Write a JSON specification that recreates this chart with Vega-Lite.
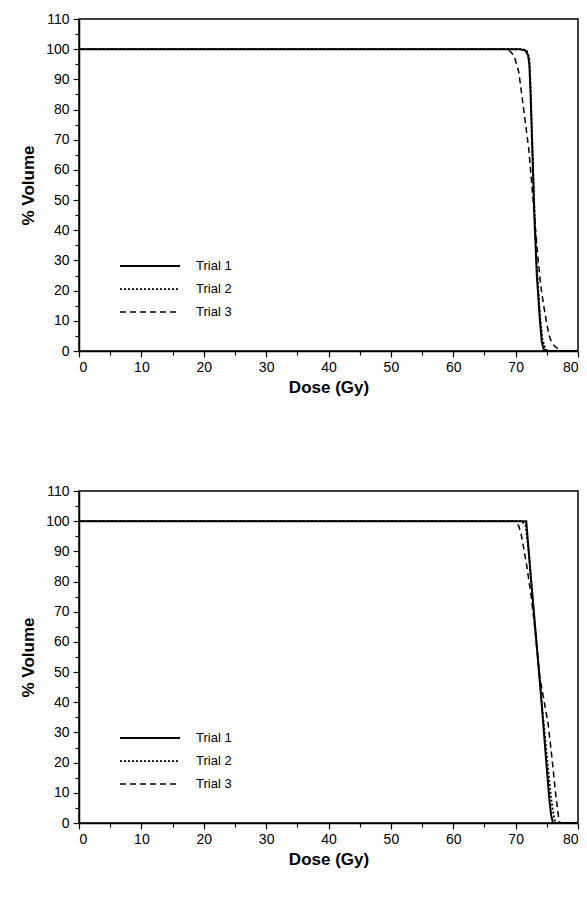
{
  "$schema": "https://vega.github.io/schema/vega-lite/v6.json",
  "padding": {"left": 18, "top": 11, "right": 0, "bottom": 0},
  "background": "white",
  "bounds": "flush",
  "spacing": 140,
  "config": {
    "view": {"stroke": "black", "strokeWidth": 1.5},
    "font": "Liberation Sans",
    "axis": {
      "domainColor": "black", "domainWidth": 1.5,
      "tickColor": "black", "tickWidth": 1.2,
      "labelColor": "black", "labelFont": "Liberation Sans", "labelFontSize": 14,
      "titleColor": "black", "titleFont": "Liberation Sans", "titleFontSize": 17, "titleFontWeight": "bold",
      "grid": false
    },
    "legend": {
      "orient": "none", "title": null, "padding": 0,
      "symbolType": "stroke", "symbolSize": 3600, "symbolStrokeColor": "black", "symbolStrokeWidth": 1.5,
      "labelFont": "Liberation Sans", "labelFontSize": 13, "labelColor": "black", "labelOffset": 15,
      "clipHeight": 14, "rowPadding": 9
    }
  },
  "datasets": {
    "top": [
      {"trial": "Trial 1", "dose": 0, "volume": 100}, {"trial": "Trial 1", "dose": 70.5, "volume": 100},
      {"trial": "Trial 1", "dose": 71.5, "volume": 99.7}, {"trial": "Trial 1", "dose": 72.0, "volume": 98},
      {"trial": "Trial 1", "dose": 72.2, "volume": 95}, {"trial": "Trial 1", "dose": 72.4, "volume": 85},
      {"trial": "Trial 1", "dose": 72.7, "volume": 65}, {"trial": "Trial 1", "dose": 73.0, "volume": 45},
      {"trial": "Trial 1", "dose": 73.4, "volume": 25}, {"trial": "Trial 1", "dose": 73.9, "volume": 10},
      {"trial": "Trial 1", "dose": 74.2, "volume": 3}, {"trial": "Trial 1", "dose": 74.5, "volume": 0.5},
      {"trial": "Trial 1", "dose": 75.0, "volume": 0}, {"trial": "Trial 1", "dose": 80, "volume": 0},
      {"trial": "Trial 2", "dose": 0, "volume": 100}, {"trial": "Trial 2", "dose": 71.0, "volume": 100},
      {"trial": "Trial 2", "dose": 71.8, "volume": 99.5}, {"trial": "Trial 2", "dose": 72.2, "volume": 97},
      {"trial": "Trial 2", "dose": 72.4, "volume": 88}, {"trial": "Trial 2", "dose": 72.7, "volume": 68},
      {"trial": "Trial 2", "dose": 73.0, "volume": 48}, {"trial": "Trial 2", "dose": 73.4, "volume": 28},
      {"trial": "Trial 2", "dose": 73.9, "volume": 12}, {"trial": "Trial 2", "dose": 74.3, "volume": 4},
      {"trial": "Trial 2", "dose": 74.8, "volume": 0.5}, {"trial": "Trial 2", "dose": 75.3, "volume": 0},
      {"trial": "Trial 2", "dose": 80, "volume": 0},
      {"trial": "Trial 3", "dose": 0, "volume": 100}, {"trial": "Trial 3", "dose": 68.5, "volume": 100},
      {"trial": "Trial 3", "dose": 69.3, "volume": 99}, {"trial": "Trial 3", "dose": 69.8, "volume": 97.5},
      {"trial": "Trial 3", "dose": 70.5, "volume": 92.5}, {"trial": "Trial 3", "dose": 71.3, "volume": 80},
      {"trial": "Trial 3", "dose": 72.1, "volume": 67}, {"trial": "Trial 3", "dose": 72.6, "volume": 55},
      {"trial": "Trial 3", "dose": 73.0, "volume": 45}, {"trial": "Trial 3", "dose": 73.4, "volume": 35},
      {"trial": "Trial 3", "dose": 74.0, "volume": 22}, {"trial": "Trial 3", "dose": 74.5, "volume": 15},
      {"trial": "Trial 3", "dose": 75.0, "volume": 9}, {"trial": "Trial 3", "dose": 75.3, "volume": 5.7},
      {"trial": "Trial 3", "dose": 75.6, "volume": 3.8}, {"trial": "Trial 3", "dose": 76.1, "volume": 2},
      {"trial": "Trial 3", "dose": 76.8, "volume": 0.7}, {"trial": "Trial 3", "dose": 77.3, "volume": 0},
      {"trial": "Trial 3", "dose": 80, "volume": 0}
    ],
    "bottom": [
      {"trial": "Trial 1", "dose": 0, "volume": 100}, {"trial": "Trial 1", "dose": 71.7, "volume": 100},
      {"trial": "Trial 1", "dose": 72.1, "volume": 90}, {"trial": "Trial 1", "dose": 72.5, "volume": 80},
      {"trial": "Trial 1", "dose": 73.0, "volume": 68}, {"trial": "Trial 1", "dose": 73.5, "volume": 56},
      {"trial": "Trial 1", "dose": 74.0, "volume": 44}, {"trial": "Trial 1", "dose": 74.5, "volume": 31},
      {"trial": "Trial 1", "dose": 75.0, "volume": 18}, {"trial": "Trial 1", "dose": 75.4, "volume": 8},
      {"trial": "Trial 1", "dose": 75.7, "volume": 2.5}, {"trial": "Trial 1", "dose": 76.0, "volume": 0},
      {"trial": "Trial 1", "dose": 80, "volume": 0},
      {"trial": "Trial 2", "dose": 0, "volume": 100}, {"trial": "Trial 2", "dose": 71.0, "volume": 100},
      {"trial": "Trial 2", "dose": 71.6, "volume": 98.5}, {"trial": "Trial 2", "dose": 72.1, "volume": 90},
      {"trial": "Trial 2", "dose": 72.5, "volume": 80}, {"trial": "Trial 2", "dose": 73.0, "volume": 68},
      {"trial": "Trial 2", "dose": 73.5, "volume": 56}, {"trial": "Trial 2", "dose": 74.0, "volume": 44},
      {"trial": "Trial 2", "dose": 74.6, "volume": 31}, {"trial": "Trial 2", "dose": 75.2, "volume": 18},
      {"trial": "Trial 2", "dose": 75.7, "volume": 8}, {"trial": "Trial 2", "dose": 76.1, "volume": 2.5},
      {"trial": "Trial 2", "dose": 76.4, "volume": 0}, {"trial": "Trial 2", "dose": 80, "volume": 0},
      {"trial": "Trial 3", "dose": 0, "volume": 100}, {"trial": "Trial 3", "dose": 69.8, "volume": 100},
      {"trial": "Trial 3", "dose": 70.5, "volume": 98.5}, {"trial": "Trial 3", "dose": 70.9, "volume": 95.5},
      {"trial": "Trial 3", "dose": 71.3, "volume": 91}, {"trial": "Trial 3", "dose": 71.8, "volume": 85},
      {"trial": "Trial 3", "dose": 72.5, "volume": 75}, {"trial": "Trial 3", "dose": 73.0, "volume": 66},
      {"trial": "Trial 3", "dose": 73.5, "volume": 56}, {"trial": "Trial 3", "dose": 73.9, "volume": 48},
      {"trial": "Trial 3", "dose": 74.6, "volume": 40}, {"trial": "Trial 3", "dose": 75.2, "volume": 33},
      {"trial": "Trial 3", "dose": 75.7, "volume": 24}, {"trial": "Trial 3", "dose": 76.1, "volume": 16},
      {"trial": "Trial 3", "dose": 76.4, "volume": 10}, {"trial": "Trial 3", "dose": 76.7, "volume": 5},
      {"trial": "Trial 3", "dose": 76.9, "volume": 1.5}, {"trial": "Trial 3", "dose": 77.1, "volume": 0},
      {"trial": "Trial 3", "dose": 80, "volume": 0}
    ]
  },
  "resolve": {"scale": {"strokeDash": "independent", "strokeWidth": "independent"}, "legend": {"strokeDash": "independent"}},
  "vconcat": [
    {
      "width": 499, "height": 332,
      "data": {"name": "top"},
      "mark": {"type": "line", "color": "black", "clip": true},
      "encoding": {
        "x": {"field": "dose", "type": "quantitative", "title": "Dose (Gy)",
              "scale": {"domain": [0, 80], "nice": false},
              "axis": {"values": [0,5,10,15,20,25,30,35,40,45,50,55,60,65,70,75,80],
                       "labelExpr": "datum.value % 10 === 0 ? datum.label : ''",
                       "tickSize": {"condition": {"test": "datum.value % 10 === 0", "value": 6}, "value": 4},
                       "labelPadding": 3, "titlePadding": 5}},
        "y": {"field": "volume", "type": "quantitative", "title": "% Volume",
              "scale": {"domain": [0, 110], "nice": false},
              "axis": {"values": [0,5,10,15,20,25,30,35,40,45,50,55,60,65,70,75,80,85,90,95,100,105,110],
                       "labelExpr": "datum.value % 10 === 0 ? datum.label : ''",
                       "tickSize": {"condition": {"test": "datum.value % 10 === 0", "value": 6}, "value": 4},
                       "labelPadding": 4, "titlePadding": 8}},
        "strokeDash": {"field": "trial", "type": "nominal",
                       "scale": {"domain": ["Trial 1", "Trial 2", "Trial 3"], "range": [[1, 0], [2, 2], [6, 4]]},
                       "legend": {"legendX": 40, "legendY": 240}},
        "strokeWidth": {"field": "trial", "type": "nominal",
                        "scale": {"domain": ["Trial 1", "Trial 2", "Trial 3"], "range": [2, 1.5, 1.5]},
                        "legend": null}
      }
    },
    {
      "width": 499, "height": 332,
      "data": {"name": "bottom"},
      "mark": {"type": "line", "color": "black", "clip": true},
      "encoding": {
        "x": {"field": "dose", "type": "quantitative", "title": "Dose (Gy)",
              "scale": {"domain": [0, 80], "nice": false},
              "axis": {"values": [0,5,10,15,20,25,30,35,40,45,50,55,60,65,70,75,80],
                       "labelExpr": "datum.value % 10 === 0 ? datum.label : ''",
                       "tickSize": {"condition": {"test": "datum.value % 10 === 0", "value": 6}, "value": 4},
                       "labelPadding": 3, "titlePadding": 5}},
        "y": {"field": "volume", "type": "quantitative", "title": "% Volume",
              "scale": {"domain": [0, 110], "nice": false},
              "axis": {"values": [0,5,10,15,20,25,30,35,40,45,50,55,60,65,70,75,80,85,90,95,100,105,110],
                       "labelExpr": "datum.value % 10 === 0 ? datum.label : ''",
                       "tickSize": {"condition": {"test": "datum.value % 10 === 0", "value": 6}, "value": 4},
                       "labelPadding": 4, "titlePadding": 8}},
        "strokeDash": {"field": "trial", "type": "nominal",
                       "scale": {"domain": ["Trial 1", "Trial 2", "Trial 3"], "range": [[1, 0], [2, 2], [6, 4]]},
                       "legend": {"legendX": 40, "legendY": 240}},
        "strokeWidth": {"field": "trial", "type": "nominal",
                        "scale": {"domain": ["Trial 1", "Trial 2", "Trial 3"], "range": [2, 1.5, 1.5]},
                        "legend": null}
      }
    }
  ]
}
